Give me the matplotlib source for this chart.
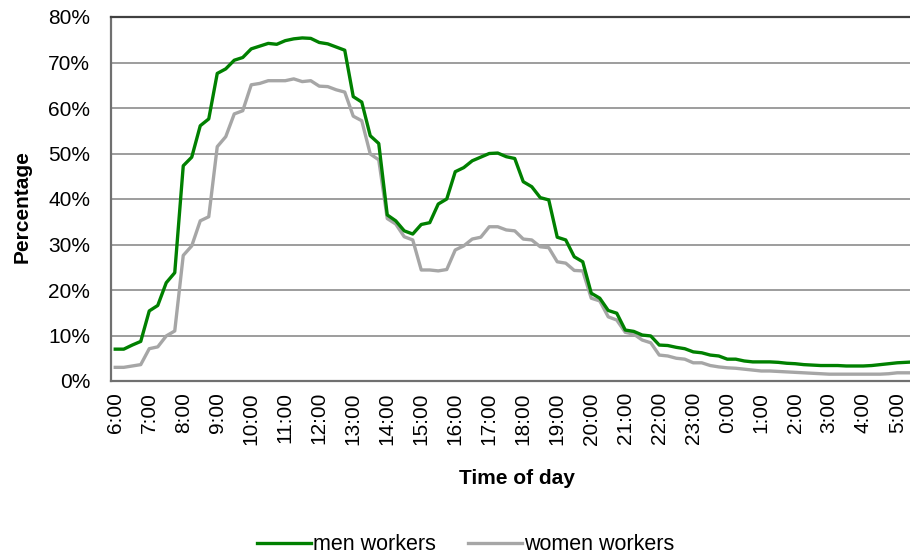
import numpy as np
import matplotlib
matplotlib.use("Agg")
import matplotlib.pyplot as plt

plt.rcParams["font.family"] = ["Liberation Sans", "DejaVu Sans"]

# quarter-hour slots from 6:00 to 5:45, percentage of workers at work
men_workers = [
    7.0, 7.0, 7.9, 8.7, 15.4, 16.6, 21.6, 23.8,
    47.3, 49.2, 56.1, 57.6, 67.6, 68.6, 70.5, 71.1,
    73.0, 73.6, 74.2, 74.0, 74.8, 75.2, 75.4, 75.3,
    74.4, 74.1, 73.4, 72.7, 62.5, 61.3, 53.9, 52.2,
    36.5, 35.2, 33.0, 32.3, 34.4, 34.8, 38.9, 40.0,
    46.0, 46.9, 48.4, 49.2, 50.0, 50.1, 49.3, 48.9,
    43.8, 42.7, 40.3, 39.8, 31.6, 31.0, 27.3, 26.2,
    19.3, 18.2, 15.5, 14.9, 11.2, 10.9, 10.1, 9.9,
    7.9, 7.8, 7.4, 7.1, 6.4, 6.2, 5.7, 5.5,
    4.8, 4.8, 4.4, 4.2, 4.2, 4.2, 4.1, 3.9,
    3.8, 3.6, 3.5, 3.4, 3.4, 3.4, 3.3, 3.3,
    3.3, 3.4, 3.6, 3.8, 4.0, 4.1, 4.2, 4.3,
]
women_workers = [
    3.0, 3.0, 3.3, 3.6, 7.1, 7.5, 9.9, 11.0,
    27.6, 29.7, 35.2, 36.1, 51.5, 53.7, 58.7, 59.4,
    65.1, 65.4, 66.0, 66.0, 66.0, 66.4, 65.8, 66.0,
    64.8, 64.7, 64.0, 63.5, 58.2, 57.2, 49.9, 48.6,
    35.7, 34.5, 31.7, 31.0, 24.4, 24.4, 24.2, 24.5,
    28.8, 29.7, 31.2, 31.6, 33.9, 33.9, 33.2, 33.0,
    31.2, 31.0, 29.5, 29.3, 26.2, 25.9, 24.3, 24.2,
    18.2, 17.6, 14.1, 13.4, 10.7, 10.3, 9.0, 8.4,
    5.7, 5.5, 5.0, 4.8, 4.0, 4.0, 3.4, 3.1,
    2.9, 2.8, 2.6, 2.4, 2.2, 2.2, 2.1, 2.0,
    1.9, 1.8, 1.7, 1.6, 1.5, 1.5, 1.5, 1.5,
    1.5, 1.5, 1.5, 1.6, 1.8, 1.8, 1.8, 1.8,
]
hour_labels = ["6:00", "7:00", "8:00", "9:00", "10:00", "11:00", "12:00",
               "13:00", "14:00", "15:00", "16:00", "17:00", "18:00", "19:00",
               "20:00", "21:00", "22:00", "23:00", "0:00", "1:00", "2:00",
               "3:00", "4:00", "5:00"]
y_ticks = [0, 10, 20, 30, 40, 50, 60, 70, 80]

W, H = 910, 558
fig = plt.figure(figsize=(W / 100, H / 100), dpi=100)
# plot area runs past the right edge, as in the cropped original
ax = fig.add_axes([111 / W, (H - 381) / H, 816 / W, 364 / H])

x = np.arange(len(men_workers))
ax.plot(x, men_workers, color="#008000", lw=2.4, label="men workers", zorder=3)
ax.plot(x, women_workers, color="#A6A6A6", lw=2.4, label="women workers", zorder=2)

ax.set_xlim(-0.5, len(men_workers) - 0.5)
ax.set_ylim(0, 80)
ax.set_yticks(y_ticks)
ax.set_yticklabels([f"{v}%" for v in y_ticks], fontsize=15)
ax.set_xticks(np.arange(0, len(men_workers), 4))
ax.set_xticklabels(hour_labels, rotation=90, fontsize=15)
ax.tick_params(axis="y", length=0, pad=15)
ax.tick_params(axis="x", length=0, pad=8)

ax.grid(axis="y", color="#8C8C8C", lw=1.2)
ax.set_axisbelow(True)
for side in ["left", "bottom"]:
    ax.spines[side].set_color("#707070")
    ax.spines[side].set_linewidth(1.6)
ax.spines["top"].set_color("#404040")
ax.spines["top"].set_linewidth(1.6)
ax.spines["right"].set_visible(False)

fig.text(22 / W, 1 - 207 / H, "Percentage", rotation=90, fontsize=15,
         fontweight="bold", ha="center", va="center")
fig.text(517 / W, 1 - 478 / H, "Time of day", fontsize=15,
         fontweight="bold", ha="center", va="center")

fig.legend(loc="center", bbox_to_anchor=(466 / W, 1 - 545 / H), ncol=2,
           frameon=False, fontsize=15.5, handlelength=2.5, handletextpad=0.1,
           columnspacing=1.5)

fig.savefig("out.png", dpi=100)
